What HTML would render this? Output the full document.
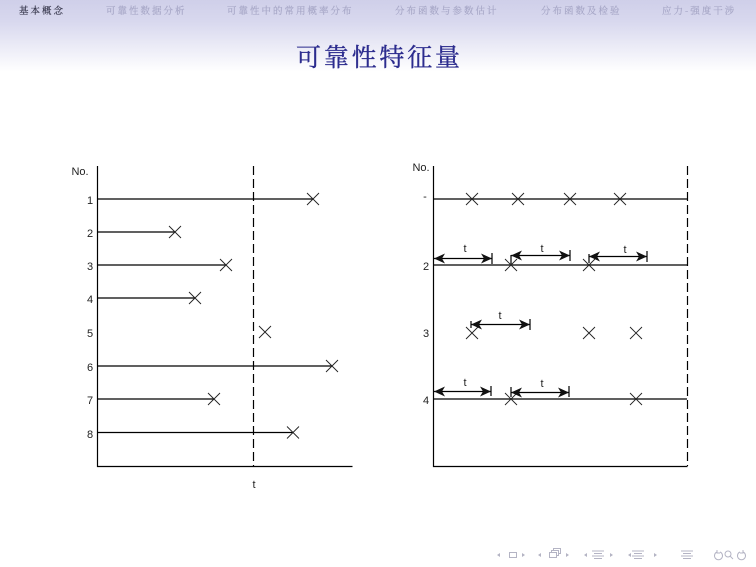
<!DOCTYPE html>
<html><head><meta charset="utf-8"><style>
html,body{margin:0;padding:0;background:#fff}
svg{display:block}
.n{font-family:"Noto Serif CJK SC","Liberation Serif",serif;font-size:9.5px;letter-spacing:2px;fill:#a6a6c6;stroke:#a6a6c6;stroke-width:.15}
.l{font-family:"Liberation Sans",sans-serif;font-size:11px;fill:#222;text-anchor:middle}
.x{stroke:#222;stroke-width:.9;fill:none}
.a{stroke:#000;stroke-width:1.2;fill:none}
.k{fill:#111}
.i{stroke:#b4b4c4;stroke-width:1;fill:none}
.f{fill:#b4b4c4}
</style></head><body>
<svg width="756" height="567" viewBox="0 0 756 567" xmlns="http://www.w3.org/2000/svg">
<defs>
<linearGradient id="g" x1="0" y1="0" x2="0" y2="1"><stop offset="0" stop-color="#cfcfe9"/><stop offset=".3" stop-color="#d8d8ee"/><stop offset="1" stop-color="#fff"/></linearGradient>
<path id="x" class="x" d="M-6-6L6 6M-6 6L6-6"/>
<path id="al" class="k" d="M0 0L11-5L8 0L11 5Z"/>
<path id="ar" class="k" d="M0 0L-11-5L-8 0L-11 5Z"/>
</defs>
<rect width="756" height="72" fill="url(#g)"/>
<text x="19" y="14" class="n" style="fill:#333348;stroke:#333348">基本概念</text>
<text x="106" y="14" class="n">可靠性数据分析</text>
<text x="227" y="14" class="n">可靠性中的常用概率分布</text>
<text x="395" y="14" class="n">分布函数与参数估计</text>
<text x="541" y="14" class="n">分布函数及检验</text>
<text x="662" y="14" class="n">应力-强度干涉</text>
<text x="296" y="66" font-family="'Noto Serif CJK SC','Liberation Serif',serif" font-size="25" letter-spacing="2.8" fill="#2c2c8e" stroke="#2c2c8e" stroke-width=".35">可靠性特征量</text>

<g class="a">
<path d="M97.5 166V466.5H352.5"/>
<path d="M98 199H313M98 232H175M98 265H226M98 298H195M98 366H332M98 399H214M98 432.500H293"/>
<path d="M253.500 166V466" stroke-dasharray="9 4"/>
<path d="M433.500 166V466.500H687.500"/>
<path d="M434 199H687M434 265H687M434 399H687"/>
<path d="M687.500 166V466" stroke-dasharray="9 4"/>
<path d="M434 258.500H492M492 253V264M511 255.500H570M511 255V264M570 250V261M589 256.500H647M589 254V263M647 251V262M471 324.500H530M471 321V328M530 319V330M434 391.500H491M491 386V396M511 392.500H569M511 387V397M569 386V397"/>
</g>
<g>
<use href="#x" x="313" y="199"/><use href="#x" x="175" y="232"/><use href="#x" x="226" y="265"/><use href="#x" x="195" y="298"/><use href="#x" x="265" y="332"/><use href="#x" x="332" y="366"/><use href="#x" x="214" y="399"/><use href="#x" x="293" y="432.500"/>
<use href="#x" x="472" y="199"/><use href="#x" x="518" y="199"/><use href="#x" x="570" y="199"/><use href="#x" x="620" y="199"/>
<use href="#x" x="511" y="265"/><use href="#x" x="589" y="265"/>
<use href="#x" x="472" y="333"/><use href="#x" x="589" y="333"/><use href="#x" x="636" y="333"/>
<use href="#x" x="511" y="399"/><use href="#x" x="636" y="399"/>
</g>
<use href="#al" x="434" y="258.500"/><use href="#ar" x="492" y="258.500"/>
<use href="#al" x="511" y="255.500"/><use href="#ar" x="570" y="255.500"/>
<use href="#al" x="589" y="256.500"/><use href="#ar" x="647" y="256.500"/>
<use href="#al" x="471" y="324.500"/><use href="#ar" x="530" y="324.500"/>
<use href="#al" x="434" y="391.500"/><use href="#ar" x="491" y="391.500"/>
<use href="#al" x="511" y="392.500"/><use href="#ar" x="569" y="392.500"/>

<text x="80" y="175" class="l">No.</text>
<text x="90" y="204" class="l">1</text><text x="90" y="237" class="l">2</text><text x="90" y="270" class="l">3</text><text x="90" y="303" class="l">4</text><text x="90" y="337" class="l">5</text><text x="90" y="371" class="l">6</text><text x="90" y="404" class="l">7</text><text x="90" y="438" class="l">8</text>
<text x="254" y="488" class="l">t</text>
<text x="421" y="171" class="l">No.</text>
<text x="425" y="200" class="l">-</text><text x="426" y="270" class="l">2</text><text x="426" y="337" class="l">3</text><text x="426" y="404" class="l">4</text>
<text x="465" y="252" class="l">t</text><text x="542" y="252" class="l">t</text><text x="625" y="253" class="l">t</text><text x="500" y="319" class="l">t</text><text x="465" y="386" class="l">t</text><text x="542" y="387" class="l">t</text>

<g>
<path class="f" d="M497 555l3-2v4ZM525 555l-3-2v4ZM538 555l3-2v4ZM569 555l-3-2v4ZM584 555l3-2v4ZM613 555l-3-2v4ZM628 555l3-2v4ZM657 555l-3-2v4Z"/>
<rect class="i" x="509.500" y="552.500" width="7" height="5"/>
<path class="i" d="M549.500 552.500h7v5h-7zM551.500 552.500v-2h7v5h-2M553.500 550.500v-2h7v5h-2"/>
<path class="i" d="M592 551h12M594 553.500h8M592 556h12M594 558.500h8M632 551h12M634 553.500h8M632 556h12M634 558.500h8M681 551h12M683 553.500h8M681 556h12M683 558.500h8"/>
<path class="i" d="M717 552a4 4 0 1 0 3 0M717 550v3h3"/>
<circle class="i" cx="728" cy="554" r="3"/><path class="i" d="M730 556l3 3"/>
<path class="i" d="M743 552a4 4 0 1 1-3 0M743 550v3h-3"/>
</g>
</svg>
</body></html>
